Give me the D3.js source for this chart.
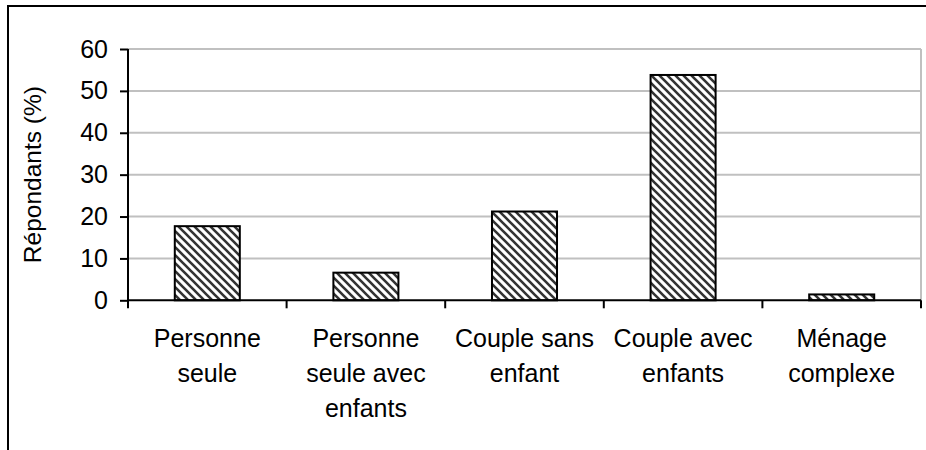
<!DOCTYPE html>
<html><head><meta charset="utf-8">
<script src="https://cdn.jsdelivr.net/npm/d3@7"></script>
<style>
html,body{margin:0;padding:0;background:#fff;}
text{font-family:"Liberation Sans",Arial,sans-serif;fill:#000;}
</style></head>
<body>
<svg id="chart" width="926" height="450"></svg>
<script>
const categories = ["Personne seule","Personne seule avec enfants","Couple sans enfant","Couple avec enfants","Ménage complexe"];
const labelLines = [["Personne","seule"],["Personne","seule avec","enfants"],["Couple sans","enfant"],["Couple avec","enfants"],["Ménage","complexe"]];
const values = [17.7, 6.6, 21.2, 53.8, 1.4];
const yTicks = [0,10,20,30,40,50,60];
const yTitle = "Répondants (%)";

const svg = d3.select("#chart");
const W = 926, H = 450;
const m = {left:128, right:5, top:49, bottom:150};
const x0 = m.left, x1 = W - m.right, y0 = H - m.bottom + 0.3, y1 = m.top;
const FS = 25;

// pattern
const defs = svg.append("defs");
const pat = defs.append("pattern").attr("id","hatch").attr("patternUnits","userSpaceOnUse")
  .attr("width",8).attr("height",8);
pat.append("rect").attr("width",8).attr("height",8).attr("fill","#fff");
pat.append("path").attr("d","M-2,-2 L10,10 M-2,6 L2,10 M6,-2 L10,2")
  .attr("stroke","#333").attr("stroke-width",2.6);

// outer border
svg.append("rect").attr("x",8).attr("y",6).attr("width",1000).attr("height",1000)
  .attr("fill","none").attr("stroke","#000").attr("stroke-width",2);

const x = d3.scaleBand().domain(categories).range([x0,x1]).paddingInner(0.59).paddingOuter(0.295);
const y = d3.scaleLinear().domain([0,60]).range([y0,y1]);

// gridlines
svg.append("g").selectAll("line").data(yTicks.filter(d=>d>0)).join("line")
  .attr("x1",x0).attr("x2",x1).attr("y1",d=>y(d)).attr("y2",d=>y(d))
  .attr("stroke","#c0c0c0").attr("stroke-width",2);
// right plot border
svg.append("line").attr("x1",x1).attr("x2",x1).attr("y1",y(60)).attr("y2",y(0))
  .attr("stroke","#c0c0c0").attr("stroke-width",2);

// bars
svg.append("g").selectAll("rect").data(values).join("rect")
  .attr("x",(d,i)=>x(categories[i])).attr("width",x.bandwidth())
  .attr("y",d=>y(d)).attr("height",d=>y(0)-y(d))
  .attr("fill","url(#hatch)").attr("stroke","#000").attr("stroke-width",2);

// y axis
const yAxis = svg.append("g").attr("transform",`translate(${x0},0)`)
  .call(d3.axisLeft(y).tickValues(yTicks).tickSize(8).tickPadding(12).tickFormat(d3.format("d")));
yAxis.select(".domain").attr("stroke","#000").attr("stroke-width",2).attr("d",`M0,${y(60)}V${y(0)}`);
yAxis.selectAll(".tick line").attr("stroke","#000").attr("stroke-width",2);
yAxis.selectAll(".tick text").attr("font-size",FS).attr("fill","#000")
  .style("font-family",'"Liberation Sans",Arial,sans-serif');

// x axis line and boundary ticks
const step = x.step();
const bounds = d3.range(categories.length+1).map(i=> x0 + i*step);
svg.append("line").attr("x1",x0).attr("x2",x1).attr("y1",y(0)).attr("y2",y(0))
  .attr("stroke","#000").attr("stroke-width",2);
svg.append("g").selectAll("line").data(bounds).join("line")
  .attr("x1",d=>d).attr("x2",d=>d).attr("y1",y(0)).attr("y2",y(0)+8)
  .attr("stroke","#000").attr("stroke-width",2);

// category labels
const lbl = svg.append("g").selectAll("text").data(categories).join("text")
  .attr("text-anchor","middle").attr("font-size",FS)
  .attr("x",d=>x(d)+x.bandwidth()/2).attr("y",347);
lbl.each(function(d,i){
  const t = d3.select(this);
  labelLines[i].forEach((ln,j)=>{
    t.append("tspan").attr("x",x(d)+x.bandwidth()/2).attr("y",347+j*35).text(ln);
  });
});

// y title
svg.append("text").attr("transform",`translate(41,${(y(0)+y(60))/2}) rotate(-90)`)
  .attr("text-anchor","middle").attr("font-size",24.5).text(yTitle);
</script>
</body></html>
